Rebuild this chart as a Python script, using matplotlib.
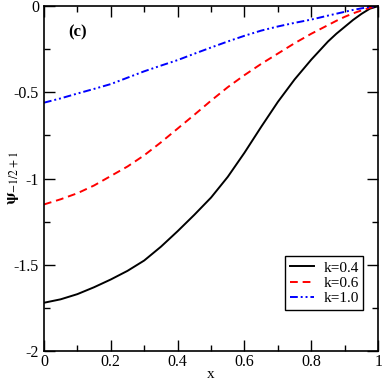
import numpy as np
import matplotlib
matplotlib.use("Agg")
import matplotlib.pyplot as plt
from matplotlib.ticker import MultipleLocator

plt.rcParams['font.family'] = ['Liberation Serif', 'DejaVu Serif']
plt.rcParams['mathtext.fontset'] = 'stix'
plt.rcParams['axes.unicode_minus'] = False

# values
x = [0.0, 0.05, 0.1, 0.15, 0.2, 0.25, 0.3, 0.35, 0.4, 0.45, 0.5,
     0.55, 0.6, 0.65, 0.7, 0.75, 0.8, 0.85, 0.875, 0.9, 0.925, 0.95, 0.975, 1.0]
psi_k04 = [-1.72, -1.70, -1.67, -1.63, -1.585, -1.535, -1.475, -1.395, -1.305, -1.21, -1.11,
           -0.99, -0.85, -0.70, -0.555, -0.425, -0.31, -0.205, -0.16, -0.12, -0.08, -0.045, -0.015, 0.0]
psi_k06 = [-1.15, -1.12, -1.085, -1.04, -0.985, -0.93, -0.865, -0.79, -0.71, -0.63, -0.548,
           -0.47, -0.40, -0.335, -0.275, -0.215, -0.16, -0.11, -0.085, -0.062, -0.042, -0.025, -0.01, 0.0]
psi_k10 = [-0.56, -0.535, -0.507, -0.48, -0.452, -0.415, -0.378, -0.345, -0.313, -0.276, -0.24,
           -0.205, -0.172, -0.142, -0.118, -0.097, -0.078, -0.055, -0.044, -0.033, -0.022, -0.013, -0.005, 0.0]

fig = plt.figure(figsize=(3.82, 3.82), dpi=100)
ax = fig.add_axes([0.115, 0.081, 0.875, 0.903])

ax.plot(x, psi_k04, color="black", lw=1.4, label="k=0.4")
ax.plot(x, psi_k06, color="red", lw=1.4, ls=(0, (4, 2.5)), label="k=0.6")
ax.plot(x, psi_k10, color="blue", lw=1.4, ls=(0, (4, 1.5, 1, 1.5, 1, 1.5)), label="k=1.0")

ax.set_xlim(0, 1)
ax.set_ylim(-2, 0)
ax.xaxis.set_minor_locator(MultipleLocator(0.1))
ax.yaxis.set_minor_locator(MultipleLocator(0.25))
ax.set_xticks([0, 0.2, 0.4, 0.6, 0.8, 1.0])
ax.set_xticklabels(["0", "0.2", "0.4", "0.6", "0.8", "1"])
ax.set_yticks([-2, -1.5, -1, -0.5, 0])
ax.set_yticklabels(["-2", "-1.5", "-1", "-0.5", "0"])
ax.tick_params(which="both", direction="in", top=True, right=True, labelsize=11.5)
ax.tick_params(which="major", length=8, width=1)
ax.tick_params(which="minor", length=4, width=1)
ax.tick_params(axis="x", pad=2)
for s in ax.spines.values():
    s.set_linewidth(1.2)

ax.set_xlabel("x", fontsize=11, labelpad=-1)
ax.set_ylabel(r"$\mathbf{\psi}_{-1/2+1}$", fontsize=12, labelpad=0)
ax.yaxis.set_label_coords(-0.068, 0.5)

ax.text(0.1, -0.15, "(c)", fontsize=12, fontweight="bold", ha="center", va="center")

leg = ax.legend(loc="lower right", bbox_to_anchor=(0.955, 0.12), fontsize=11,
                frameon=True, fancybox=False, edgecolor="black", framealpha=1,
                handlelength=1.6, handletextpad=0.6, labelspacing=0.1,
                borderpad=0.3, borderaxespad=0)
leg.get_frame().set_linewidth(1.0)

fig.savefig("out.png", dpi=100)
